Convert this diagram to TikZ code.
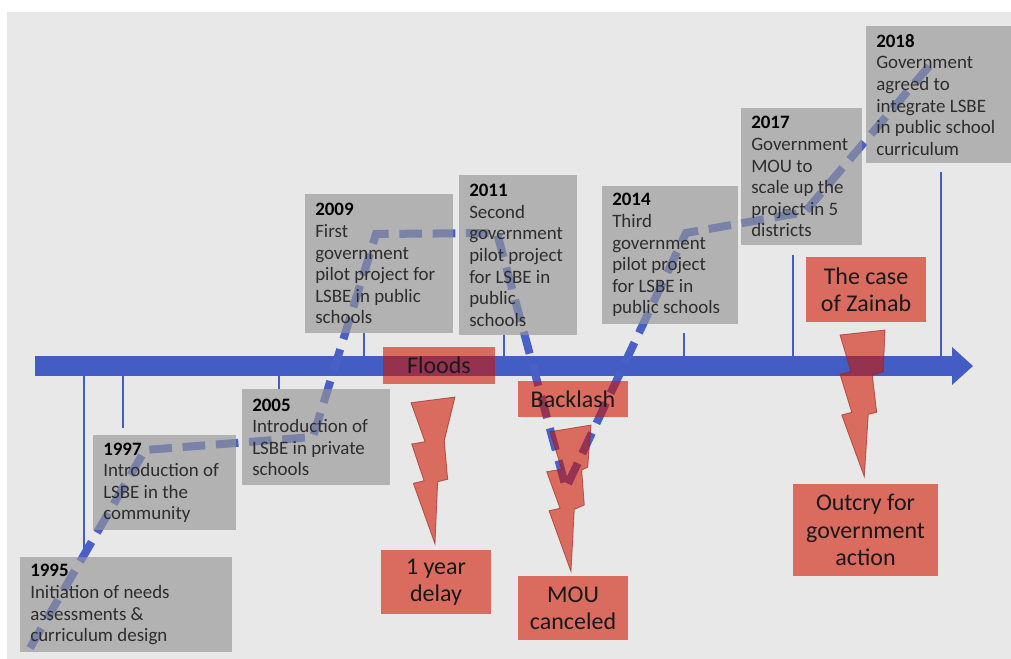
\documentclass[tikz,border=0pt]{standalone}
\usepackage{fontspec}
\setmainfont{Carlito}
\definecolor{bg}{RGB}{232,232,232}
\definecolor{barblue}{RGB}{68,93,196}
\definecolor{dashblue}{RGB}{72,96,200}
\definecolor{boxgray}{RGB}{150,150,150}
\definecolor{redfill}{RGB}{207,20,0}
\definecolor{boltedge}{RGB}{150,30,20}
\definecolor{txtgray}{RGB}{45,45,45}
\tikzset{
  gbox/.style={fill=boxgray, fill opacity=0.65, draw=none, inner sep=0pt, anchor=north west},
  gtext/.style={anchor=west, align=left, font=\fontsize{14.2}{16.2}\selectfont, text=txtgray, inner sep=0pt},
  rbox/.style={fill=redfill, fill opacity=0.59, text opacity=1, text=black!90, align=center, font=\fontsize{18}{20.5}\selectfont, inner sep=0pt},
  bolt/.style={fill=redfill, fill opacity=0.59, draw=boltedge, draw opacity=0.6, line width=0.6pt},
  tick/.style={draw=barblue, line width=0.9pt},
  progress/.style={draw=dashblue, line width=6pt, dash pattern=on 17pt off 8pt},
  barstyle/.style={fill=barblue, draw=none, inner sep=0pt}
}
\begin{document}
\begin{tikzpicture}[x=0.75pt,y=-0.75pt]
\useasboundingbox (0,0) rectangle (1011,659);
\fill[white] (0,0) rectangle (1011,659);
\fill[bg] (7,12) rectangle (1011,659);

% timeline bar
\node[barstyle, minimum width=687.75pt, minimum height=15pt, anchor=west] (bar) at (35,366) {};
\coordinate (headtop) at (952,347);
\coordinate (headtip) at (973,366);
\coordinate (headbot) at (952,385);
\fill[barblue] (headtop) -- (headtip) -- (headbot) -- cycle;

% ticks
\coordinate (k1995) at (84,557);
\coordinate (k1997) at (123,428);
\coordinate (k2005) at (279,389);
\coordinate (k2009) at (364,333);
\coordinate (k2011) at (504,335);
\coordinate (k2014) at (684,333);
\coordinate (k2017) at (793,255);
\coordinate (k2018) at (941,172);
\draw[tick] (k1995) -- (k1995 |- bar.south);
\draw[tick] (k1997) -- (k1997 |- bar.south);
\draw[tick] (k2005) -- (k2005 |- bar.south);
\draw[tick] (k2009) -- (k2009 |- bar.north);
\draw[tick] (k2011) -- (k2011 |- bar.north);
\draw[tick] (k2014) -- (k2014 |- bar.north);
\draw[tick] (k2017) -- (k2017 |- bar.north);
\draw[tick] (k2018) -- (k2018 |- bar.north);

% progress dashed line
\coordinate (p1) at (30,648);
\coordinate (p2) at (145,450);
\coordinate (p3) at (313,437);
\coordinate (p4) at (376,234);
\coordinate (p5) at (497,233);
\coordinate (p6) at (566,488);
\coordinate (p7) at (686,233);
\coordinate (p8) at (805,212);
\coordinate (p9) at (930,65);
\draw[progress] (p1) -- (p2) -- (p3) -- (p4) -- (p5) -- (p6) -- (p7) -- (p8) -- (p9);

% gray boxes
\node[gbox, minimum width=159pt, minimum height=71.25pt] (b1995) at (20,557) {};
\node[gbox, minimum width=107.25pt, minimum height=71.25pt] (b1997) at (93,435) {};
\node[gbox, minimum width=111pt, minimum height=72pt] (b2005) at (242,389) {};
\node[gbox, minimum width=111pt, minimum height=104.25pt] (b2009) at (305,194) {};
\node[gbox, minimum width=88.5pt, minimum height=120pt] (b2011) at (459,175) {};
\node[gbox, minimum width=102pt, minimum height=103.5pt] (b2014) at (602,186) {};
\node[gbox, minimum width=90.75pt, minimum height=102.75pt] (b2017) at (741,108) {};
\node[gbox, minimum width=108.75pt, minimum height=102.75pt] (b2018) at (866,26) {};

\node[gtext] (t1995) at ([xshift=7.5pt]b1995.west) {\textbf{\color{black}1995}\\Initiation of needs\\assessments \&\\curriculum design};
\node[gtext] (t1997) at ([xshift=7.5pt]b1997.west) {\textbf{\color{black}1997}\\Introduction of\\LSBE in the\\community};
\node[gtext] (t2005) at ([xshift=7.5pt]b2005.west) {\textbf{\color{black}2005}\\Introduction of\\LSBE in private\\schools};
\node[gtext] (t2009) at ([xshift=7.5pt]b2009.west) {\textbf{\color{black}2009}\\First\\government\\pilot project for\\LSBE in public\\schools};
\node[gtext] (t2011) at ([xshift=7.5pt]b2011.west) {\textbf{\color{black}2011}\\Second\\government\\pilot project\\for LSBE in\\public\\schools};
\node[gtext] (t2014) at ([xshift=7.5pt]b2014.west) {\textbf{\color{black}2014}\\Third\\government\\pilot project\\for LSBE in\\public schools};
\node[gtext] (t2017) at ([xshift=7.5pt]b2017.west) {\textbf{\color{black}2017}\\Government\\MOU to\\scale up the\\project in 5\\districts};
\node[gtext] (t2018) at ([xshift=7.5pt]b2018.west) {\textbf{\color{black}2018}\\Government\\agreed to\\integrate LSBE\\in public school\\curriculum};

% red boxes
\node[rbox, minimum width=84pt, minimum height=27.75pt] (floods) at (439,365.5) {Floods};
\node[rbox, minimum width=82.5pt, minimum height=27pt] (backlash) at (573,399) {Backlash};
\node[rbox, minimum width=82.5pt, minimum height=48pt] (delay) at (436,582) {1 year\\delay};
\node[rbox, minimum width=82.5pt, minimum height=48pt] (mou) at (573,608) {MOU\\canceled};
\node[rbox, minimum width=90pt, minimum height=48.75pt] (zainab) at (866,289.5) {The case\\of Zainab};
\node[rbox, minimum width=108.75pt, minimum height=69pt] (outcry) at (865.5,530) {Outcry for\\government\\action};

% lightning bolts
\draw[bolt] (411,402.7) -- (455,397) -- (444.3,440.7) -- (447.7,479.3) -- (437.7,481.7) -- (435,544)
  -- (413.3,483.3) -- (424,480.7) -- (411.7,444) -- (425,441.7) -- cycle;
\draw[bolt] (550,431.7) -- (591,425) -- (587.7,467.3) -- (581.7,470) -- (584.3,505) -- (574.3,509.3) -- (571,571.7)
  -- (549,510.7) -- (560,508.3) -- (546.7,471.7) -- (561.7,469.3) -- cycle;
\draw[bolt] (840,335) -- (885,330) -- (883.3,371.7) -- (872.3,375) -- (876.7,412.3) -- (868.3,414.3) -- (864.3,476.7)
  -- (841.7,415) -- (851.7,412.3) -- (840,374.3) -- (851,371.7) -- cycle;
\end{tikzpicture}
\end{document}
